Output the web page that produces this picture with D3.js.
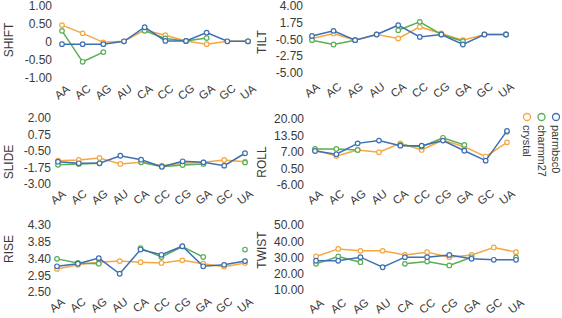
<!DOCTYPE html>
<html>
<head>
<meta charset="utf-8">
<script src="https://cdn.jsdelivr.net/npm/d3@7"></script>
<style>
  body { margin: 0; background: #fff; }
  svg { display: block; font-family: "Liberation Sans", Arial, sans-serif; }
</style>
</head>
<body>
<div id="chart"></div>
<script>
var categories = ["AA", "AC", "AG", "AU", "CA", "CC", "CG", "GA", "GC", "UA"];
var seriesNames = ["crystal", "charmm27", "parmbsc0"];
var seriesColors = ["#f5a742", "#5aae55", "#3d6fb4"];

var shiftCrystal = [0.47, 0.24, -0.01, 0.02, 0.33, 0.19, 0.03, -0.06, 0.02, 0.02];
var shiftCharmm = [0.31, -0.55, -0.28, null, 0.31, 0.10, 0.03, 0.11, null, 0.02];
var shiftParm = [-0.06, -0.06, -0.06, 0.02, 0.41, 0.03, 0.03, 0.26, 0.02, 0.02];

var tiltCrystal = [-0.40, 0.27, -0.63, 0.13, -0.40, 1.15, 0.27, -0.63, 0.13, 0.13];
var tiltCharmm = [-0.63, -1.21, -0.63, null, 0.71, 1.83, 0.13, -0.77, null, 0.13];
var tiltParm = [-0.06, 0.62, -0.63, 0.13, 1.38, -0.19, 0.13, -1.21, 0.13, 0.13];

var slideCrystal = [-1.23, -1.18, -1.03, -1.48, -1.36, -1.61, -1.43, -1.36, -1.18, -1.31];
var slideCharmm = [-1.54, -1.48, -1.43, null, -1.36, -1.69, -1.56, -1.48, null, -1.38];
var slideParm = [-1.31, -1.43, -1.43, -0.86, -1.16, -1.69, -1.28, -1.36, -1.61, -0.67];

var rollCrystal = [7.8, 5.4, 7.8, 6.9, 10.4, 7.8, 11.7, 9.1, 5.2, 10.8];
var rollCharmm = [8.2, 8.2, 7.8, null, 9.8, 9.1, 12.6, 9.8, null, 15.0];
var rollParm = [7.4, 6.1, 10.4, 11.5, 9.5, 9.5, 11.5, 7.5, 3.6, 15.3];

var riseCrystal = [3.12, 3.23, 3.30, 3.33, 3.30, 3.28, 3.35, 3.26, 3.18, 3.28];
var riseCharmm = [3.39, 3.28, 3.26, null, 3.68, 3.44, 3.72, 3.44, null, 3.64];
var riseParm = [3.19, 3.26, 3.41, 2.99, 3.64, 3.50, 3.73, 3.19, 3.23, 3.33];

var twistCrystal = [30.6, 35.3, 34.1, 34.1, 31.6, 33.3, 30.2, 31.6, 36.2, 33.3];
var twistCharmm = [26.1, 30.6, 27.1, null, 26.1, 27.5, 25.1, 30.2, null, 30.0];
var twistParm = [28.0, 28.0, 30.2, 24.0, 30.2, 30.2, 31.6, 29.2, 28.6, 28.6];

var shiftTicks = [-1, -0.5, 0, 0.5, 1];
var tiltTicks = [-5, -2.75, -0.5, 1.75, 4];
var slideTicks = [-3, -1.75, -0.5, 0.75, 2];
var rollTicks = [-6, 0.5, 7, 13.5, 20];
var riseTicks = [2.5, 2.95, 3.4, 3.85, 4.3];
var twistTicks = [10, 20, 30, 40, 50];

// panel layout (pixels)
var panels = [
    {title: "SHIFT", ticks: shiftTicks, data: [shiftCrystal, shiftCharmm, shiftParm], x: [62, 248], y: [78, 6], labelY: 92, axisX: 52, titleX: 9, titleY: 40},
    {title: "TILT", ticks: tiltTicks, data: [tiltCrystal, tiltCharmm, tiltParm], x: [312, 506], y: [72.7, 5.7], labelY: 90, axisX: 303, titleX: 262, titleY: 42},
    {title: "SLIDE", ticks: slideTicks, data: [slideCrystal, slideCharmm, slideParm], x: [58, 245], y: [184, 118], labelY: 197, axisX: 51, titleX: 9, titleY: 162},
    {title: "ROLL", ticks: rollTicks, data: [rollCrystal, rollCharmm, rollParm], x: [315, 507], y: [185, 119], labelY: 197, axisX: 304, titleX: 262, titleY: 162},
    {title: "RISE", ticks: riseTicks, data: [riseCrystal, riseCharmm, riseParm], x: [57, 245], y: [292, 225], labelY: 305, axisX: 51, titleX: 9, titleY: 249},
    {title: "TWIST", ticks: twistTicks, data: [twistCrystal, twistCharmm, twistParm], x: [316, 516], y: [290, 225], labelY: 306, axisX: 304, titleX: 262, titleY: 250}
];

var width = 562, height = 318;

var svg = d3.select("#chart")
    .append("svg")
    .attr("width", width)
    .attr("height", height);

function fmt(d) {
    return d === 0 ? "0" : d.toFixed(2);
}

panels.forEach(function (p) {
    var xScale = d3.scalePoint().domain(categories).range(p.x);
    var yScale = d3.scaleLinear()
        .domain([p.ticks[0], p.ticks[p.ticks.length - 1]])
        .range(p.y);

    var g = svg.append("g");

    // y axis, labels only
    var yAxisGroup = g.append("g")
        .attr("transform", "translate(" + p.axisX + ",0)")
        .call(d3.axisLeft(yScale).tickValues(p.ticks).tickSize(0).tickPadding(0).tickFormat(fmt));
    yAxisGroup.select(".domain").remove();
    yAxisGroup.selectAll("text")
        .style("font-family", "Liberation Sans, Arial, sans-serif")
        .style("font-size", "12px")
        .attr("fill", "#3a3a3a");

    // x labels, rotated
    g.append("g").selectAll("text")
        .data(categories)
        .join("text")
        .attr("transform", function (d) {
            return "translate(" + xScale(d) + "," + p.labelY + ") rotate(-38)";
        })
        .attr("text-anchor", "middle")
        .attr("dy", "0.35em")
        .style("font-size", "11.5px")
        .attr("fill", "#3a3a3a")
        .text(function (d) { return d; });

    // y title
    g.append("text")
        .attr("transform", "translate(" + p.titleX + "," + p.titleY + ") rotate(-90)")
        .attr("text-anchor", "middle")
        .attr("dy", "0.35em")
        .style("font-size", "12px")
        .attr("fill", "#3a3a3a")
        .text(p.title);

    var line = d3.line()
        .defined(function (d) { return d != null; })
        .x(function (d, i) { return xScale(categories[i]); })
        .y(function (d) { return yScale(d); });

    p.data.forEach(function (values, s) {
        g.append("path")
            .datum(values)
            .attr("d", line)
            .style("fill", "none")
            .style("stroke", seriesColors[s])
            .attr("stroke-width", 1.5);

        g.append("g").selectAll("circle")
            .data(values.map(function (v, i) { return {key: categories[i], value: v}; })
                .filter(function (d) { return d.value != null; }))
            .join("circle")
            .attr("cx", function (d) { return xScale(d.key); })
            .attr("cy", function (d) { return yScale(d.value); })
            .attr("r", 2.3)
            .style("fill", "#fff")
            .style("stroke", seriesColors[s])
            .style("stroke-width", 1.2);
    });
});

// legend, vertical text
var legend = svg.append("g");
var legendX = d3.scalePoint().domain(seriesNames).range([527, 556]);

legend.selectAll("circle")
    .data(seriesNames)
    .join("circle")
    .attr("cx", function (d) { return legendX(d); })
    .attr("cy", 117)
    .attr("r", 3.5)
    .style("fill", "#fff")
    .style("stroke", function (d, i) { return seriesColors[i]; })
    .style("stroke-width", 1.3);

legend.selectAll("text")
    .data(seriesNames)
    .join("text")
    .attr("transform", function (d) { return "translate(" + (legendX(d) - 4) + ",125) rotate(90)"; })
    .style("font-size", "11px")
    .attr("fill", "#3a3a3a")
    .text(function (d) { return d; });
</script>
</body>
</html>
